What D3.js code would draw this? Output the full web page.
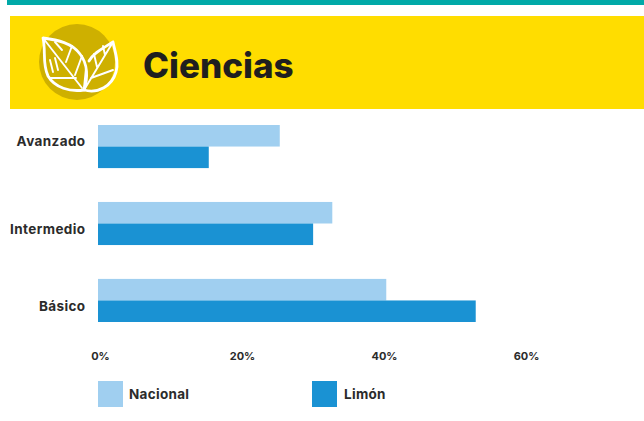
<!DOCTYPE html>
<html>
<head>
<meta charset="utf-8">
<script src="https://cdn.jsdelivr.net/npm/d3@7"></script>
<style>
html,body{margin:0;padding:0;background:#fff}
text{font-family:Inter,"Open Sans",sans-serif;font-weight:700;fill:#2b2b2b}
</style>
</head>
<body>
<div id="chart"></div>
<script>
var categories = ["Avanzado","Intermedio","Básico"]
var nacional = [25.6,33,40.6]
var limon = [15.6,30.3,53.2]
var ticks = [0,20,40,60]
var seriesNames = ["Nacional","Limón"]
var seriesColors = ["#a0cff0","#1a92d3"]

var svg = d3.select("#chart").append("svg").attr("width",644).attr("height",421).style("display","block")

// top band + yellow header
svg.append("rect").attr("x",7).attr("y",0).attr("width",637).attr("height",5).attr("fill","#00a9a8")
svg.append("rect").attr("x",10).attr("y",16).attr("width",634).attr("height",93).attr("fill","#ffdd00")
svg.append("circle").attr("cx",77).attr("cy",62).attr("r",38).attr("fill","#ceb000")

var leaf = svg.append("g").attr("fill","none").attr("stroke","#fff").attr("stroke-width",2.8).attr("stroke-linejoin","round").attr("stroke-linecap","round")
leaf.append("path").attr("d","M43,38 C58,40 72,43 80,54 C88,64 88,78 84,90 C70,92 55,88 48,76 C42,64 46,50 43,38 Z")
leaf.append("path").attr("d","M113,42 C104,48 94,52 89,61 M84,90 C98,94 112,86 116,72 C119,62 115,52 113,42")
leaf.append("path").attr("d","M43,38 L82,88 M55,42 L62,50 M66,62 L72,46 M75,75 L82,56 M50,78 L76,78 M50,60 L53,72 M55,58 L58,70 M113,42 L84,90 M97,67 L94,54 M105,55 L103,46 M91,78 L113,70 M86,68 L84,88").attr("stroke-width",1.9)

var x = d3.scaleLinear().domain([0,60]).range([98,524])
var y = d3.scaleBand().domain(categories).range([125,322]).paddingInner(0.44).paddingOuter(0)
var y2 = d3.scaleBand().domain(seriesNames).range([0,y.bandwidth()])

svg.append("text").text("Ciencias").attr("x",143).attr("y",78).style("font-size","35px").style("font-weight",800).style("fill","#1f1f1f")

var rows = svg.selectAll(".row").data(categories).enter().append("g").attr("class","row")
	.attr("transform",function(d){return "translate(0,"+y(d)+")"})
rows.append("rect").attr("x",x(0)).attr("y",y2("Nacional")).attr("height",y2.bandwidth())
	.attr("width",function(d,i){return x(nacional[i])-x(0)}).attr("fill",seriesColors[0])
rows.append("rect").attr("x",x(0)).attr("y",y2("Limón")).attr("height",y2.bandwidth())
	.attr("width",function(d,i){return x(limon[i])-x(0)}).attr("fill",seriesColors[1])

var yAxis = svg.append("g").attr("transform","translate(85.5,0)").call(d3.axisLeft(y).tickSize(0).tickPadding(0))
yAxis.select(".domain").remove()
// labels in the original don't sit centered on their bars
var labelShift = [-5,6,6]
yAxis.selectAll("text").style("font-size","13.5px").style("letter-spacing","0.4px")
	.attr("y",function(d,i){return labelShift[i]})

var xAxis = svg.append("g").attr("transform","translate(2,349)")
	.call(d3.axisBottom(x).tickValues(ticks).tickSize(0).tickFormat(function(d){return d+"%"}))
xAxis.select(".domain").remove()
xAxis.selectAll("text").style("font-size","11px")

var legendX = d3.scaleOrdinal().domain(seriesNames).range([98,312])
var legend = svg.selectAll(".legend").data(seriesNames).enter().append("g").attr("class","legend")
	.attr("transform",function(d){return "translate("+legendX(d)+",381)"})
legend.append("rect").attr("width",25).attr("height",26).attr("fill",function(d,i){return seriesColors[i]})
legend.append("text").text(function(d){return d}).attr("x",function(d,i){return i==0?31:32}).attr("y",18).style("font-size","13.5px").style("letter-spacing","0.3px")
</script>
</body>
</html>
